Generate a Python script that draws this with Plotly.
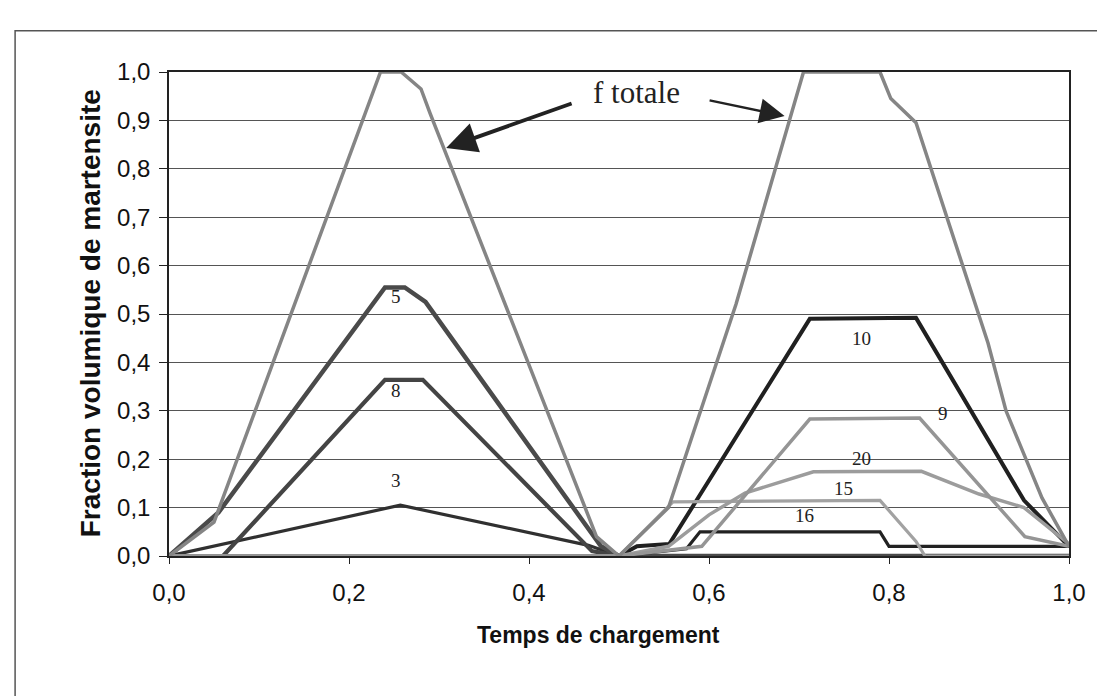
import plotly.graph_objects as go

# ---- data ----
ftot_x = [0.0, 0.05, 0.235, 0.258, 0.28, 0.29, 0.475, 0.5, 0.555, 0.63, 0.705, 0.79, 0.802, 0.83, 0.91, 0.93, 0.97, 1.0]
ftot_y = [0.0, 0.07, 1.0, 1.0, 0.965, 0.915, 0.04, 0.0, 0.10, 0.52, 1.0, 1.0, 0.945, 0.895, 0.44, 0.30, 0.12, 0.02]

c5_x = [0.0, 0.055, 0.24, 0.262, 0.285, 0.48, 0.5, 1.0]
c5_y = [0.0, 0.09, 0.555, 0.555, 0.525, 0.02, 0.0, 0.0]

c8_x = [0.0, 0.06, 0.24, 0.282, 0.47, 0.5, 1.0]
c8_y = [0.0, 0.0, 0.364, 0.364, 0.01, 0.0, 0.0]

c3_x = [0.0, 0.257, 0.466, 0.5, 1.0]
c3_y = [0.0, 0.105, 0.022, 0.0, 0.0]

c10_x = [0.0, 0.5, 0.52, 0.556, 0.712, 0.83, 0.95, 1.0]
c10_y = [0.0, 0.0, 0.02, 0.025, 0.49, 0.492, 0.115, 0.02]

c9_x = [0.0, 0.5, 0.592, 0.712, 0.834, 0.951, 1.0]
c9_y = [0.0, 0.0, 0.02, 0.283, 0.285, 0.04, 0.02]

c20_x = [0.0, 0.5, 0.555, 0.6, 0.64, 0.716, 0.836, 0.9, 0.95, 1.0]
c20_y = [0.0, 0.0, 0.02, 0.085, 0.13, 0.174, 0.175, 0.128, 0.10, 0.025]

c15_x = [0.0, 0.5, 0.56, 0.79, 0.83, 0.84, 1.0]
c15_y = [0.0, 0.0, 0.112, 0.115, 0.03, 0.0, 0.0]

c16_x = [0.0, 0.5, 0.575, 0.59, 0.79, 0.80, 1.0]
c16_y = [0.0, 0.0, 0.015, 0.05, 0.05, 0.02, 0.02]

x_ticks = [0.0, 0.2, 0.4, 0.6, 0.8, 1.0]
y_ticks = [0.0, 0.1, 0.2, 0.3, 0.4, 0.5, 0.6, 0.7, 0.8, 0.9, 1.0]

curve_labels = ["5", "8", "3", "10", "9", "20", "15", "16"]
label_x = [0.252, 0.252, 0.252, 0.769, 0.86, 0.769, 0.749, 0.706]
label_y = [0.537, 0.341, 0.157, 0.45, 0.295, 0.202, 0.14, 0.083]

# ---- figure ----
fig = go.Figure()

series = [
    (c3_x, c3_y, "#303030", 3.2),
    (c8_x, c8_y, "#444444", 4.2),
    (c5_x, c5_y, "#4a4a4a", 4.5),
    (c16_x, c16_y, "#222222", 3.2),
    (c10_x, c10_y, "#202020", 4),
    (c15_x, c15_y, "#a2a2a2", 3.2),
    (c20_x, c20_y, "#9c9c9c", 3.5),
    (c9_x, c9_y, "#959595", 3.5),
    (ftot_x, ftot_y, "#858585", 3.5),
]
for xs, ys, col, w in series:
    fig.add_trace(go.Scatter(x=xs, y=ys, mode="lines",
                             line=dict(color=col, width=w),
                             showlegend=False, hoverinfo="skip"))

for t, lx, ly in zip(curve_labels, label_x, label_y):
    fig.add_annotation(x=lx, y=ly, text=t, showarrow=False,
                       font=dict(family="Liberation Serif", size=19, color="#222"))

fig.add_annotation(x=0.519, y=0.957, text="f totale", showarrow=False,
                   font=dict(family="Liberation Serif", size=31, color="#222"))
# arrows
fig.add_annotation(x=0.308, y=0.843, ax=0.449, ay=0.936, xref="x", yref="y",
                   axref="x", ayref="y", text="", showarrow=True,
                   arrowhead=2, arrowsize=1.6, arrowwidth=3.8, arrowcolor="#222")
fig.add_annotation(x=0.684, y=0.909, ax=0.599, ay=0.942, xref="x", yref="y",
                   axref="x", ayref="y", text="", showarrow=True,
                   arrowhead=2, arrowsize=2.0, arrowwidth=2.5, arrowcolor="#222")

# axis titles
fig.add_annotation(x=0.477, y=-0.194, xref="paper", yref="paper",
                   text="<b>Temps de chargement</b>", showarrow=False,
                   font=dict(family="Liberation Sans", size=23, color="#111"))
fig.add_annotation(x=-0.107, y=0.502, xref="paper", yref="paper",
                   text="<b>Fraction volumique de martensite</b>", showarrow=False,
                   textangle=-90,
                   font=dict(family="Liberation Sans", size=28, color="#111"))

# outer frame
fig.add_shape(type="rect", xref="paper", yref="paper",
              x0=-0.171, x1=1.043, y0=-0.293, y1=1.085,
              line=dict(color="#555", width=1.5))

fig.update_layout(
    width=1105, height=696,
    margin=dict(l=161, r=44, t=64, b=148),
    paper_bgcolor="white", plot_bgcolor="white",
    separators=", ",
    font=dict(family="Liberation Sans", color="#111"),
)
fig.update_xaxes(range=[0, 1], tickvals=x_ticks, tickformat=".1f",
                 showgrid=False, zeroline=False,
                 showline=True, linecolor="#222", linewidth=1.5, mirror=True,
                 ticks="outside", ticklen=6, tickcolor="#222",
                 ticklabelstandoff=8,
                 tickfont=dict(family="Liberation Sans", size=24, color="#111"))
fig.update_yaxes(range=[0, 1], tickvals=y_ticks, tickformat=".1f",
                 showgrid=True, gridcolor="#555", gridwidth=1, zeroline=False,
                 showline=True, linecolor="#222", linewidth=1.5, mirror=True,
                 ticks="outside", ticklen=8, tickcolor="#222",
                 ticklabelstandoff=4,
                 tickfont=dict(family="Liberation Sans", size=24, color="#111"))

fig.write_html("out.html")
